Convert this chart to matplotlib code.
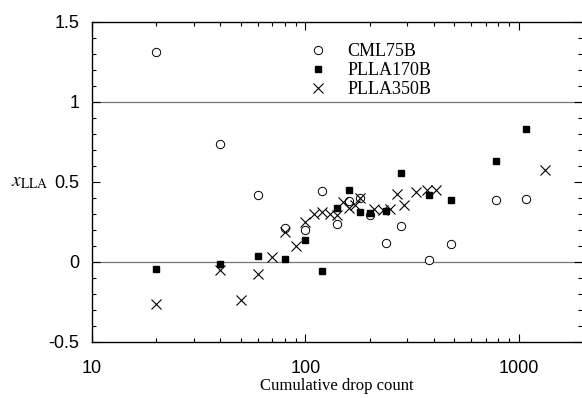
import matplotlib
matplotlib.use("Agg")
import matplotlib.pyplot as plt
from matplotlib.ticker import LogLocator, MultipleLocator, FixedLocator, NullFormatter

plt.rcParams['mathtext.fontset'] = 'stix'

# CML75B (open circles)
cml_x = [20, 40, 60, 80, 100, 120, 140, 160, 180, 200, 240, 280, 380, 480, 780, 1080]
cml_y = [1.31, 0.74, 0.416, 0.21, 0.20, 0.443, 0.235, 0.38, 0.40, 0.295, 0.116, 0.228, 0.012, 0.11, 0.389, 0.393]

# PLLA170B (filled squares)
p170_x = [20, 40, 60, 80, 100, 120, 140, 160, 180, 200, 240, 280, 380, 480, 780, 1080]
p170_y = [-0.046, -0.012, 0.037, 0.019, 0.137, -0.056, 0.34, 0.452, 0.313, 0.307, 0.316, 0.555, 0.42, 0.389, 0.633, 0.83]

# PLLA350B (crosses)
p350_x = [20, 40, 50, 60, 70, 80, 90, 100, 110, 120, 130, 140, 150, 160, 170, 180,
          210, 230, 250, 270, 290, 330, 370, 410, 1330]
p350_y = [-0.26, -0.05, -0.24, -0.072, 0.029, 0.19, 0.10, 0.25, 0.303, 0.315, 0.303, 0.294, 0.375,
          0.338, 0.356, 0.403, 0.33, 0.325, 0.33, 0.427, 0.354, 0.437, 0.453, 0.453, 0.578]

fig = plt.figure(figsize=(5.82, 3.98), dpi=100)
ax = fig.add_axes([92 / 582, 1 - 342 / 398, 490 / 582, 320 / 398])

ax.axhline(0, color='#777777', lw=0.9, zorder=1)
ax.axhline(1, color='#777777', lw=0.9, zorder=1)

ax.plot(cml_x, cml_y, 'o', mfc='white', mec='black', mew=0.7, ms=6, ls='none', label='CML75B', zorder=3)
ax.plot(p170_x, p170_y, 's', color='black', ms=4.5, ls='none', label='PLLA170B', zorder=3)
ax.plot(p350_x, p350_y, 'x', color='black', mew=0.8, ms=7, ls='none', label='PLLA350B', zorder=3)

ax.set_xscale('log')
ax.set_xlim(10, 1980)
ax.set_ylim(-0.5, 1.5)

ax.xaxis.set_major_locator(FixedLocator([10, 100, 1000]))
ax.xaxis.set_minor_locator(LogLocator(base=10, subs=range(2, 10)))
ax.xaxis.set_minor_formatter(NullFormatter())
ax.set_xticklabels(['10', '100', '1000'])
ax.set_yticks([-0.5, 0, 0.5, 1, 1.5])
ax.set_yticklabels(['-0.5', '0', '0.5', '1', '1.5'])
ax.yaxis.set_minor_locator(MultipleLocator(0.1))

ax.tick_params(which='both', direction='in', top=True, right=True, labelsize=13)
ax.tick_params(axis='x', pad=13)
ax.tick_params(axis='y', pad=9)
ax.tick_params(which='major', length=6, width=0.8)
ax.tick_params(which='minor', length=3, width=0.8)
for lab in ax.get_xticklabels() + ax.get_yticklabels():
    lab.set_family(['Liberation Sans'])

ax.spines['right'].set_visible(False)
for s in ['left', 'top', 'bottom']:
    ax.spines[s].set_linewidth(1.0)

ax.set_xlabel('Cumulative drop count', family='Liberation Serif', fontsize=12, labelpad=1)
ax.set_ylabel(r'$x_{\mathrm{LLA}}$', fontsize=14, rotation=0, va='center')
ax.yaxis.set_label_coords(-0.128, 0.5)

ax.legend(loc='upper left', bbox_to_anchor=(0.4, 0.985), frameon=False,
          prop={'family': 'Liberation Serif', 'size': 13},
          handletextpad=0.9, labelspacing=0.12, handlelength=1.5)

fig.savefig('out.png', dpi=100)
